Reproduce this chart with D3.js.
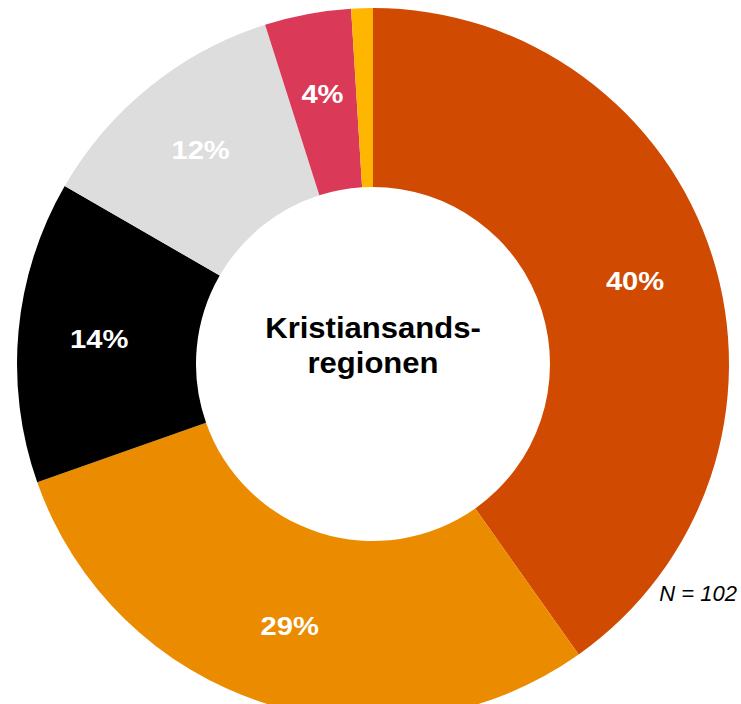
<!DOCTYPE html>
<html>
<head>
<meta charset="utf-8">
<script src="https://cdn.jsdelivr.net/npm/d3@7"></script>
<style>
  body { margin: 0; background: #fff; }
  text { font-family: "Liberation Sans", Arial, sans-serif; }
</style>
</head>
<body>
<svg id="svg" width="741" height="704"></svg>
<script>
// counts out of N = 102, clockwise from 12 o'clock
let categories = ['a', 'b', 'c', 'd', 'e', 'f'];
let counts = [41, 30, 14, 12, 4, 1];
let labels = ['40%', '29%', '14%', '12%', '4%', ''];
let colorSet = ['#d04a02', '#eb8c00', '#000000', '#dddddd', '#da3a57', '#ffb600'];
let centerTitle = ['Kristiansands-', 'regionen'];
let noteText = 'N = 102';

function render() {
  let svg = d3.select('#svg');
  let cx = 373, cy = 364;
  let outerR = 356, innerR = 177, labelR = 275;

  let data = categories.map((c, i) => ({key: c, val: counts[i], label: labels[i], color: colorSet[i]}));

  let pie = d3.pie()
    .value(d => d.val)
    .sort(null);
  let arc = d3.arc()
    .innerRadius(innerR)
    .outerRadius(outerR);
  let labelArc = d3.arc()
    .innerRadius(labelR)
    .outerRadius(labelR);

  let g = svg.append('g')
    .attr('transform', `translate(${cx},${cy})`);

  let arcs = pie(data);

  g.selectAll('path')
    .data(arcs)
    .enter()
    .append('path')
    .attr('d', arc)
    .attr('fill', d => d.data.color);

  g.selectAll('text.pct')
    .data(arcs)
    .enter()
    .append('text')
    .attr('class', 'pct')
    .attr('transform', d => `translate(${labelArc.centroid(d)}) scale(1.1,1)`)
    .attr('text-anchor', 'middle')
    .attr('dy', '0.35em')
    .attr('fill', '#fff')
    .attr('font-size', 26.5)
    .attr('font-weight', 'bold')
    .text(d => d.data.label);

  g.append('text')
    .attr('text-anchor', 'middle')
    .attr('font-size', 29)
    .attr('font-weight', 'bold')
    .attr('fill', '#000')
    .attr('transform', 'scale(1.07,1)')
    .selectAll('tspan')
    .data(centerTitle)
    .enter()
    .append('tspan')
    .attr('x', 0)
    .attr('y', (d, i) => -26 + i * 35)
    .text(d => d);

  svg.append('text')
    .attr('x', 737)
    .attr('y', 601)
    .attr('text-anchor', 'end')
    .attr('font-size', 22)
    .attr('font-style', 'italic')
    .attr('fill', '#000')
    .text(noteText);
}

render();
</script>
</body>
</html>
